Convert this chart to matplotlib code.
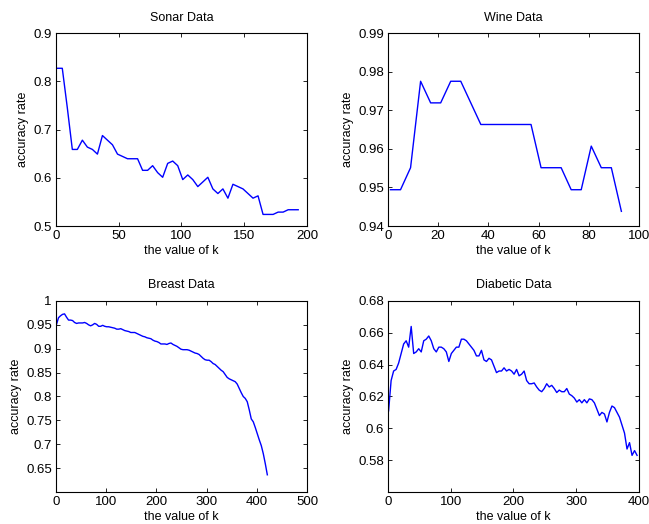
import numpy as np
import matplotlib
matplotlib.use('Agg')
import matplotlib.pyplot as plt
from matplotlib.ticker import FormatStrFormatter

plt.rcParams['font.family'] = ['Liberation Sans', 'DejaVu Sans']

# Sonar: k = 1,5,9,...,193
sonar_k = np.arange(1, 194, 4)
sonar_acc = [0.8269, 0.8269, 0.7452, 0.6587, 0.6587, 0.6779, 0.6635, 0.6587, 0.6490, 0.6875,
             0.6779, 0.6683, 0.6490, 0.6442, 0.6394, 0.6394, 0.6394, 0.6154, 0.6154, 0.6250,
             0.6106, 0.6010, 0.6298, 0.6346, 0.6250, 0.5962, 0.6058, 0.5962, 0.5817, 0.5913,
             0.6010, 0.5769, 0.5673, 0.5769, 0.5577, 0.5865, 0.5817, 0.5769, 0.5673, 0.5577,
             0.5625, 0.5240, 0.5240, 0.5240, 0.5288, 0.5288, 0.5337, 0.5337, 0.5337]

# Wine: k = 1,5,...,93
wine_k = np.arange(1, 94, 4)
wine_acc = [0.9494, 0.9494, 0.9551, 0.9775, 0.9719, 0.9719, 0.9775, 0.9775, 0.9719, 0.9663,
            0.9663, 0.9663, 0.9663, 0.9663, 0.9663, 0.9551, 0.9551, 0.9551, 0.9494, 0.9494,
            0.9607, 0.9551, 0.9551, 0.9438]

# Breast: k = 1,5,...,421
breast_k = np.arange(1, 422, 4)
breast_acc = [0.951, 0.965, 0.969, 0.972, 0.973, 0.966, 0.960, 0.960, 0.959, 0.955,
              0.953, 0.954, 0.954, 0.954, 0.955, 0.953, 0.950, 0.948, 0.950, 0.953,
              0.951, 0.947, 0.947, 0.949, 0.947, 0.946, 0.946, 0.945, 0.944, 0.943,
              0.941, 0.941, 0.942, 0.940, 0.938, 0.937, 0.936, 0.934, 0.934, 0.934,
              0.932, 0.930, 0.928, 0.926, 0.925, 0.923, 0.922, 0.921, 0.918, 0.916,
              0.915, 0.913, 0.910, 0.910, 0.910, 0.909, 0.911, 0.912, 0.909, 0.907,
              0.905, 0.902, 0.899, 0.898, 0.898, 0.898, 0.897, 0.895, 0.893, 0.891,
              0.890, 0.888, 0.884, 0.880, 0.877, 0.876, 0.876, 0.873, 0.869, 0.867,
              0.863, 0.859, 0.855, 0.852, 0.846, 0.840, 0.837, 0.835, 0.833, 0.831,
              0.826, 0.817, 0.808, 0.800, 0.796, 0.789, 0.772, 0.753, 0.747, 0.735,
              0.722, 0.709, 0.697, 0.680, 0.659, 0.636]

# Diabetic: k = 1,5,...,397
diabetic_k = np.arange(1, 398, 4)
diabetic_acc = [0.611, 0.630, 0.636, 0.637, 0.641, 0.647, 0.653, 0.655, 0.651, 0.664,
                0.647, 0.648, 0.650, 0.648, 0.655, 0.656, 0.658, 0.655, 0.650, 0.648,
                0.651, 0.651, 0.650, 0.648, 0.642, 0.647, 0.649, 0.651, 0.651, 0.656,
                0.656, 0.655, 0.653, 0.651, 0.649, 0.6455, 0.6455, 0.649, 0.643, 0.642,
                0.644, 0.643, 0.639, 0.635, 0.636, 0.636, 0.638, 0.636, 0.637, 0.636,
                0.634, 0.637, 0.633, 0.634, 0.636, 0.630, 0.628, 0.628, 0.6285, 0.626,
                0.624, 0.623, 0.625, 0.628, 0.626, 0.627, 0.625, 0.6225, 0.624, 0.623,
                0.623, 0.625, 0.6215, 0.6205, 0.619, 0.6165, 0.618, 0.616, 0.618, 0.616,
                0.6185, 0.618, 0.616, 0.612, 0.608, 0.610, 0.609, 0.604, 0.610, 0.614,
                0.613, 0.610, 0.607, 0.602, 0.597, 0.587, 0.591, 0.583, 0.586, 0.583]

fig = plt.figure(figsize=(6.49, 5.24), dpi=100)

panels = [
    # rect, title, k, acc, xlim, xticks, ylim, yticks
    ([0.0863, 0.5687, 0.3867, 0.3683], 'Sonar Data', sonar_k, sonar_acc,
     (0, 200), np.arange(0, 201, 50), (0.5, 0.9), np.arange(0.5, 0.91, 0.1)),
    ([0.5978, 0.5687, 0.3867, 0.3683], 'Wine Data', wine_k, wine_acc,
     (0, 100), np.arange(0, 101, 20), (0.94, 0.99), np.arange(0.94, 0.991, 0.01)),
    ([0.0863, 0.0611, 0.3867, 0.3645], 'Breast Data', breast_k, breast_acc,
     (0, 500), np.arange(0, 501, 100), (0.6, 1.0), np.arange(0.65, 1.001, 0.05)),
    ([0.5978, 0.0611, 0.3867, 0.3645], 'Diabetic Data', diabetic_k, diabetic_acc,
     (0, 400), np.arange(0, 401, 100), (0.56, 0.68), np.arange(0.58, 0.681, 0.02)),
]

for rect, title, k, acc, xlim, xticks, ylim, yticks in panels:
    ax = fig.add_axes(rect)
    ax.plot(k, acc, color='#0000ff', lw=1.0)
    ax.set_xlim(*xlim)
    ax.set_ylim(*ylim)
    ax.set_xticks(xticks)
    ax.set_yticks(yticks)
    ax.yaxis.set_major_formatter(FormatStrFormatter('%g'))
    ax.xaxis.set_major_formatter(FormatStrFormatter('%g'))
    ax.tick_params(direction='in', top=True, right=True, length=3, width=0.6,
                   labelsize=9.5, pad=3)
    for sp in ax.spines.values():
        sp.set_linewidth(0.8)
    ax.set_title(title, fontsize=9, pad=9)
    ax.set_xlabel('the value of k', fontsize=9, labelpad=2)
    ax.set_ylabel('accuracy rate', fontsize=9, labelpad=3)

fig.savefig('out.png', dpi=100)
